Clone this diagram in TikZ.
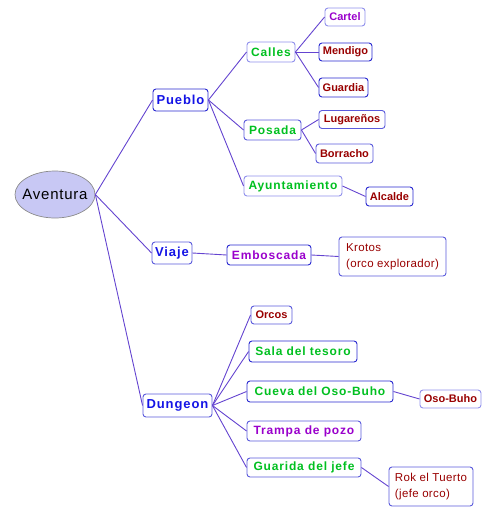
\documentclass[tikz,border=0pt]{standalone}
\usepackage{fontspec}
\setmainfont{Liberation Sans}
\newfontfamily\fAv[LetterSpace=5]{Liberation Sans}
\newfontfamily\fSp[LetterSpace=7]{Liberation Sans}
\newfontfamily\fLf{Liberation Sans}
\newfontfamily\fTw[LetterSpace=3]{Liberation Sans}
\usetikzlibrary{shapes.geometric}
\definecolor{edgec}{HTML}{6444D0}
\definecolor{bdark}{HTML}{2828D0}
\definecolor{bmid}{HTML}{5A5ADC}
\definecolor{blight}{HTML}{9090EC}
\definecolor{tblue}{HTML}{1414E6}
\definecolor{tgreen}{HTML}{00C020}
\definecolor{tpurple}{HTML}{9A00CC}
\definecolor{tred}{HTML}{990000}
\definecolor{avfill}{HTML}{C8C8F4}
\tikzset{
  box/.style={draw, fill=white, rounded corners=3pt, line width=0.9pt, inner sep=0pt},
  lvlone/.style={box, text=tblue, font=\fSp\bfseries\fontsize{13}{15}\selectfont},
  lvltwo/.style={box, text=tgreen, font=\fSp\bfseries\fontsize{12}{14}\selectfont},
  lvlp/.style={box, text=tpurple, font=\fSp\bfseries\fontsize{12}{14}\selectfont},
  leaf/.style={box, text=tred, font=\fLf\bfseries\fontsize{11}{13}\selectfont},
  leafp/.style={box, text=tpurple, font=\fLf\bfseries\fontsize{11}{13}\selectfont},
  twoline/.style={box, text=tred, align=left, font=\fTw\fontsize{11.5}{16}\selectfont},
  edge/.style={draw=edgec, line width=0.9pt},
  sz/.style 2 args={minimum width=#1pt, minimum height=#2pt}
}
\begin{document}
\begin{tikzpicture}[x=1pt,y=-1pt]
\useasboundingbox (0,0) rectangle (488,512);
\node[ellipse, draw=black!45, fill=avfill, line width=0.7pt, inner sep=0pt, minimum width=80pt, minimum height=47pt,
  label={[font=\fAv\fontsize{15}{17}\selectfont, inner sep=0pt]center:Aventura}] (aventura) at (55,194.5) {};
% level 1
\node[lvlone, draw=bdark, sz={55}{22}] (pueblo) at (180.5,100) {Pueblo};
\node[lvlone, draw=bmid, sz={40}{22}] (viaje) at (172,253) {Viaje};
\node[lvlone, draw=bmid, sz={69}{23}] (dungeon) at (177.5,405.5) {Dungeon};
% pueblo children
\node[lvltwo, draw=blight, sz={48}{20}] (calles) at (271,52) {Calles};
\node[lvltwo, draw=bmid, sz={57}{20}] (posada) at (272.5,130) {Posada};
\node[lvltwo, draw=blight, sz={98}{20}] (ayunt) at (293,186) {Ayuntamiento};
\node[leafp, draw=blight, sz={40}{18}] (cartel) at (345,17) {Cartel};
\node[leaf, draw=bdark, sz={53}{18}] (mendigo) at (345.5,52) {Mendigo};
\node[leaf, draw=bdark, sz={49}{19}] (guardia) at (343.5,87.5) {Guardia};
\node[leaf, draw=bmid, sz={66}{18}] (lugar) at (352,119.5) {Lugareños};
\node[leaf, draw=bmid, sz={57}{19}] (borracho) at (344.5,153.5) {Borracho};
\node[leaf, draw=bdark, sz={47}{19}] (alcalde) at (389.5,196.5) {Alcalde};
% viaje children
\node[lvlp, draw=bdark, sz={84}{20}] (embosc) at (269,255) {Emboscada};
\node[twoline, draw=bmid, sz={107}{39}] (krotos) at (392.5,256.5) {Krotos\\(orco explorador)};
% dungeon children
\node[leaf, draw=bmid, sz={41}{18}] (orcos) at (271.5,315) {Orcos};
\node[lvltwo, draw=bdark, sz={108}{21}] (sala) at (303,351.5) {Sala del tesoro};
\node[lvltwo, draw=bdark, sz={146}{21}] (cueva) at (320,391.5) {Cueva del Oso-Buho};
\node[leaf, draw=blight, sz={61}{18}] (osobuho) at (450.5,399) {Oso-Buho};
\node[lvlp, draw=bmid, sz={114}{20}] (trampa) at (304,431) {Trampa de pozo};
\node[lvltwo, draw=bmid, sz={114}{19}] (guarida) at (304,467.5) {Guarida del jefe};
\node[twoline, draw=bmid, sz={84}{39}] (rok) at (431,486.5) {Rok el Tuerto\\(jefe orco)};
% edges
\draw[edge] (aventura.east) -- (pueblo.west);
\draw[edge] (aventura.east) -- (viaje.west);
\draw[edge] (aventura.east) -- (dungeon.west);
\draw[edge] (pueblo.east) -- (calles.west);
\draw[edge] (pueblo.east) -- (posada.west);
\draw[edge] (pueblo.east) -- (ayunt.west);
\draw[edge] (calles.east) -- (cartel.west);
\draw[edge] (calles.east) -- (mendigo.west);
\draw[edge] (calles.east) -- (guardia.west);
\draw[edge] (posada.east) -- (lugar.west);
\draw[edge] (posada.east) -- (borracho.west);
\draw[edge] (ayunt.east) -- (alcalde.west);
\draw[edge] (viaje.east) -- (embosc.west);
\draw[edge] (embosc.east) -- (krotos.west);
\draw[edge] (dungeon.east) -- (orcos.west);
\draw[edge] (dungeon.east) -- (sala.west);
\draw[edge] (dungeon.east) -- (cueva.west);
\draw[edge] (dungeon.east) -- (trampa.west);
\draw[edge] (dungeon.east) -- (guarida.west);
\draw[edge] (cueva.east) -- (osobuho.west);
\draw[edge] (guarida.east) -- (rok.west);
\end{tikzpicture}
\end{document}
